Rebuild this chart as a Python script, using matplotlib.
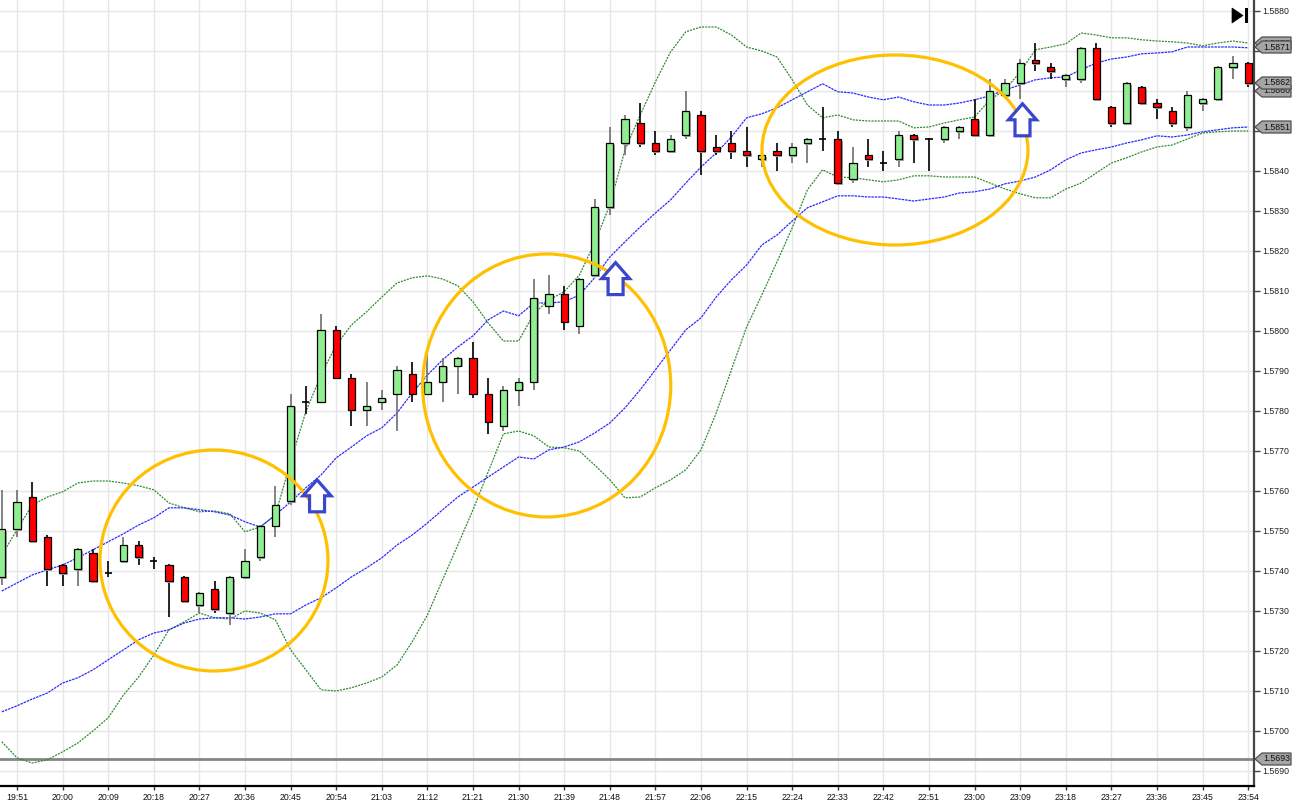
import numpy as np
import matplotlib
matplotlib.use("Agg")
import matplotlib.pyplot as plt
from matplotlib.patches import Rectangle, Ellipse, Polygon
from matplotlib.transforms import IdentityTransform

# ---------------- data (3-minute candles, 19:48 .. 23:54) ----------------
opens = [1.57385, 1.57505, 1.57585, 1.57485, 1.57415, 1.57405, 1.57445, 1.57395, 1.57425, 1.57465,
         1.57425, 1.57415, 1.57385, 1.57315, 1.57355, 1.57295, 1.57385, 1.57435, 1.57513, 1.57575,
         1.57823, 1.57823, 1.58003, 1.57883, 1.57803, 1.57823, 1.57843, 1.57893, 1.57843, 1.57873,
         1.57913, 1.57933, 1.57843, 1.57763, 1.57853, 1.57873, 1.58063, 1.58093, 1.58013, 1.58140,
         1.58310, 1.58470, 1.58520, 1.58470, 1.58450, 1.58490, 1.58540, 1.58460, 1.58470, 1.58450,
         1.58430, 1.58450, 1.58440, 1.58470, 1.58480, 1.58480, 1.58380, 1.58440, 1.58420, 1.58430,
         1.58490, 1.58480, 1.58480, 1.58500, 1.58530, 1.58490, 1.58590, 1.58620, 1.58678, 1.58660,
         1.58630, 1.58630, 1.58708, 1.58560, 1.58520, 1.58610, 1.58570, 1.58550, 1.58510, 1.58570,
         1.58580, 1.58660, 1.58670]
highs = [1.57603, 1.57603, 1.57623, 1.57490, 1.57418, 1.57458, 1.57455, 1.57425, 1.57485, 1.57475,
         1.57435, 1.57418, 1.57388, 1.57348, 1.57375, 1.57388, 1.57455, 1.57515, 1.57613, 1.57843,
         1.57863, 1.58043, 1.58013, 1.57893, 1.57873, 1.57853, 1.57913, 1.57923, 1.57948, 1.57933,
         1.57935, 1.57973, 1.57883, 1.57863, 1.57883, 1.58130, 1.58140, 1.58113, 1.58133, 1.58330,
         1.58510, 1.58540, 1.58570, 1.58500, 1.58490, 1.58600, 1.58550, 1.58490, 1.58500, 1.58510,
         1.58442, 1.58470, 1.58470, 1.58482, 1.58560, 1.58500, 1.58460, 1.58480, 1.58450, 1.58500,
         1.58492, 1.58482, 1.58512, 1.58512, 1.58580, 1.58630, 1.58630, 1.58680, 1.58720, 1.58670,
         1.58642, 1.58710, 1.58720, 1.58562, 1.58622, 1.58612, 1.58580, 1.58560, 1.58600, 1.58582,
         1.58662, 1.58688, 1.58672]
lows = [1.57365, 1.57485, 1.57470, 1.57363, 1.57363, 1.57363, 1.57372, 1.57385, 1.57422, 1.57415,
        1.57405, 1.57285, 1.57322, 1.57295, 1.57295, 1.57265, 1.57382, 1.57425, 1.57485, 1.57565,
        1.57793, 1.57820, 1.57880, 1.57763, 1.57763, 1.57803, 1.57750, 1.57823, 1.57840, 1.57823,
        1.57843, 1.57833, 1.57743, 1.57750, 1.57813, 1.57853, 1.58043, 1.58003, 1.57993, 1.58138,
        1.58290, 1.58440, 1.58460, 1.58440, 1.58448, 1.58480, 1.58390, 1.58440, 1.58430, 1.58410,
        1.58410, 1.58400, 1.58420, 1.58420, 1.58450, 1.58370, 1.58370, 1.58410, 1.58400, 1.58410,
        1.58420, 1.58400, 1.58470, 1.58480, 1.58490, 1.58488, 1.58588, 1.58580, 1.58650, 1.58630,
        1.58610, 1.58620, 1.58580, 1.58510, 1.58518, 1.58570, 1.58530, 1.58510, 1.58500, 1.58550,
        1.58578, 1.58630, 1.58610]
closes = [1.57505, 1.57573, 1.57475, 1.57405, 1.57395, 1.57455, 1.57375, 1.57395, 1.57465, 1.57435,
          1.57425, 1.57375, 1.57325, 1.57345, 1.57305, 1.57385, 1.57425, 1.57513, 1.57565, 1.57813,
          1.57823, 1.58003, 1.57883, 1.57803, 1.57813, 1.57833, 1.57903, 1.57843, 1.57873, 1.57913,
          1.57933, 1.57843, 1.57773, 1.57853, 1.57873, 1.58083, 1.58093, 1.58023, 1.58130, 1.58310,
          1.58470, 1.58530, 1.58470, 1.58450, 1.58480, 1.58550, 1.58450, 1.58450, 1.58450, 1.58440,
          1.58440, 1.58440, 1.58460, 1.58480, 1.58480, 1.58370, 1.58420, 1.58430, 1.58420, 1.58490,
          1.58480, 1.58480, 1.58510, 1.58510, 1.58490, 1.58600, 1.58620, 1.58670, 1.58670, 1.58650,
          1.58640, 1.58708, 1.58580, 1.58520, 1.58620, 1.58570, 1.58560, 1.58520, 1.58590, 1.58580,
          1.58660, 1.58670, 1.58620]

# Bollinger bands (green)
bb_upper = [1.57440, 1.57503, 1.57565, 1.57585, 1.57598, 1.57620, 1.57625, 1.57625, 1.57620, 1.57613,
            1.57603, 1.57570, 1.57558, 1.57548, 1.57550, 1.57543, 1.57498, 1.57510, 1.57540, 1.57673,
            1.57798, 1.57890, 1.57965, 1.58015, 1.58048, 1.58085, 1.58120, 1.58133, 1.58138, 1.58130,
            1.58113, 1.58073, 1.58020, 1.57975, 1.57975, 1.58043, 1.58078, 1.58098, 1.58140, 1.58220,
            1.58315, 1.58453, 1.58540, 1.58623, 1.58698, 1.58748, 1.58760, 1.58760, 1.58740, 1.58710,
            1.58700, 1.58685, 1.58628, 1.58565, 1.58533, 1.58540, 1.58528, 1.58525, 1.58525, 1.58525,
            1.58508, 1.58510, 1.58520, 1.58528, 1.58535, 1.58578, 1.58603, 1.58648, 1.58703, 1.58710,
            1.58718, 1.58745, 1.58740, 1.58733, 1.58733, 1.58728, 1.58725, 1.58723, 1.58720, 1.58713,
            1.58720, 1.58725, 1.58720]
bb_lower = [1.56973, 1.56933, 1.56920, 1.56928, 1.56948, 1.56970, 1.57000, 1.57033, 1.57090, 1.57135,
            1.57190, 1.57253, 1.57273, 1.57295, 1.57283, 1.57280, 1.57300, 1.57295, 1.57278, 1.57203,
            1.57153, 1.57103, 1.57100, 1.57108, 1.57120, 1.57135, 1.57165, 1.57223, 1.57290, 1.57378,
            1.57465, 1.57553, 1.57648, 1.57743, 1.57750, 1.57738, 1.57710, 1.57708, 1.57700, 1.57665,
            1.57628, 1.57583, 1.57585, 1.57608, 1.57628, 1.57653, 1.57703, 1.57795, 1.57903, 1.58010,
            1.58090, 1.58173, 1.58258, 1.58353, 1.58403, 1.58385, 1.58383, 1.58378, 1.58373, 1.58378,
            1.58388, 1.58388, 1.58385, 1.58385, 1.58385, 1.58370, 1.58355, 1.58343, 1.58333, 1.58333,
            1.58355, 1.58370, 1.58395, 1.58420, 1.58433, 1.58448, 1.58460, 1.58465, 1.58480, 1.58495,
            1.58498, 1.58500, 1.58500]
# Keltner channel (blue)
kc_upper = [1.57350, 1.57370, 1.57390, 1.57403, 1.57415, 1.57433, 1.57453, 1.57473, 1.57493, 1.57515,
            1.57533, 1.57558, 1.57558, 1.57553, 1.57548, 1.57540, 1.57523, 1.57510, 1.57540, 1.57573,
            1.57608, 1.57640, 1.57683, 1.57710, 1.57738, 1.57758, 1.57795, 1.57845, 1.57890, 1.57928,
            1.57960, 1.57988, 1.58028, 1.58050, 1.58038, 1.58070, 1.58070, 1.58073, 1.58090, 1.58133,
            1.58185, 1.58223, 1.58260, 1.58295, 1.58328, 1.58370, 1.58410, 1.58445, 1.58485, 1.58533,
            1.58543, 1.58558, 1.58578, 1.58598, 1.58618, 1.58598, 1.58595, 1.58585, 1.58578, 1.58585,
            1.58573, 1.58565, 1.58565, 1.58570, 1.58578, 1.58588, 1.58603, 1.58615, 1.58628, 1.58633,
            1.58635, 1.58653, 1.58670, 1.58680, 1.58685, 1.58693, 1.58695, 1.58698, 1.58710, 1.58710,
            1.58710, 1.58710, 1.58708]
kc_lower = [1.57048, 1.57063, 1.57080, 1.57095, 1.57120, 1.57133, 1.57153, 1.57178, 1.57203, 1.57228,
            1.57245, 1.57253, 1.57270, 1.57280, 1.57283, 1.57283, 1.57280, 1.57285, 1.57293, 1.57293,
            1.57315, 1.57333, 1.57358, 1.57385, 1.57408, 1.57433, 1.57465, 1.57490, 1.57520, 1.57553,
            1.57585, 1.57610, 1.57635, 1.57660, 1.57685, 1.57680, 1.57703, 1.57710, 1.57723, 1.57745,
            1.57770, 1.57808, 1.57853, 1.57903, 1.57953, 1.58003, 1.58033, 1.58085, 1.58128, 1.58165,
            1.58215, 1.58240, 1.58275, 1.58308, 1.58323, 1.58338, 1.58338, 1.58335, 1.58335, 1.58330,
            1.58325, 1.58330, 1.58335, 1.58345, 1.58348, 1.58355, 1.58368, 1.58375, 1.58385, 1.58403,
            1.58428, 1.58445, 1.58453, 1.58460, 1.58470, 1.58478, 1.58488, 1.58485, 1.58490, 1.58498,
            1.58503, 1.58508, 1.58510]

tick_labels = ["19:51", "20:00", "20:09", "20:18", "20:27", "20:36", "20:45", "20:54", "21:03", "21:12",
               "21:21", "21:30", "21:39", "21:48", "21:57", "22:06", "22:15", "22:24", "22:33", "22:42",
               "22:51", "23:00", "23:09", "23:18", "23:27", "23:36", "23:45", "23:54"]
y_ticks = [1.5690, 1.5700, 1.5710, 1.5720, 1.5730, 1.5740, 1.5750, 1.5760, 1.5770, 1.5780,
           1.5790, 1.5800, 1.5810, 1.5820, 1.5830, 1.5840, 1.5850, 1.5860, 1.5870, 1.5880]
# y tick labels hidden behind the value tags in the reference
hidden_tick_labels = [1.5850, 1.5860, 1.5870]
tag_values = [1.5872, 1.5871, 1.5860, 1.5862, 1.5851, 1.5693]
ref_level = 1.5693

# annotations: (center index, center price, width in candles, height in price)
circles = [(13.96, 1.574263, 15.0, 0.005525),
           (35.85, 1.578638, 16.32, 0.006575),
           (58.76, 1.584525, 17.5, 0.00475)]
# up-arrows: (candle index, tip price)
arrows = [(20.74, 1.57628), (40.38, 1.58171), (67.15, 1.58568)]

# ---------------- figure ----------------
W, H = 1310, 809
plt.rcParams['font.family'] = ['Liberation Sans', 'DejaVu Sans']
fig = plt.figure(figsize=(W / 100, H / 100), dpi=100)
fig.patch.set_facecolor('white')
ax = fig.add_axes([0, 23 / H, 1254 / W, 786 / H])
ax.set_facecolor('white')

n = len(opens)
x = np.arange(n)

ax.set_xlim(-0.118, 82.38)
ax.set_ylim(1.568625, 1.588275)

# grid
xt = list(range(1, n, 3))
for t in xt:
    ax.axvline(t, color='#e6e6e6', lw=1.0, zorder=0)
for v in y_ticks:
    ax.axhline(v, color='#e6e6e6', lw=1.0, zorder=0)

ax.axhline(ref_level, color='#858585', lw=2.0, zorder=1)

# bands
ax.plot(x, bb_upper, color='#2e8b2e', lw=0.9, ls=(0, (1.6, 0.9)), zorder=2)
ax.plot(x, bb_lower, color='#2e8b2e', lw=0.9, ls=(0, (1.6, 0.9)), zorder=2)
ax.plot(x, kc_upper, color='#2b2bff', lw=0.9, ls=(0, (2.0, 0.7)), zorder=2)
ax.plot(x, kc_lower, color='#2b2bff', lw=0.9, ls=(0, (2.0, 0.7)), zorder=2)

# candles
bw = 0.48
for i in range(n):
    o, h, l, c = opens[i], highs[i], lows[i], closes[i]
    up = c > o
    doji = abs(c - o) < 1e-7
    wc = '#6e6e6e' if (up and not doji) else '#000000'
    ax.vlines(i, l, h, color=wc, lw=1.2, zorder=4)
    if doji:
        ax.hlines(o, i - bw / 2, i + bw / 2, color='black', lw=1.2, zorder=5)
        continue
    lo, hi = min(o, c), max(o, c)
    ax.add_patch(Rectangle((i - bw / 2 + 0.09, lo - 0.00004), bw, hi - lo,
                           facecolor='#a8a8a8', edgecolor='none', zorder=4.5))
    ax.add_patch(Rectangle((i - bw / 2, lo), bw, hi - lo,
                           facecolor='#90ee90' if up else '#ff0000',
                           edgecolor='black', lw=0.9, zorder=5))

# circles
for cx, cy, w, hgt in circles:
    ax.add_patch(Ellipse((cx, cy), w, hgt, fill=False, edgecolor='#ffc000', lw=2.3, zorder=6))

# axes styling
for s in ['left', 'top']:
    ax.spines[s].set_visible(False)
ax.spines['right'].set_color('#444444')
ax.spines['right'].set_linewidth(1.6)
ax.spines['bottom'].set_color('#000000')
ax.spines['bottom'].set_linewidth(1.6)

ax.set_xticks(xt)
ax.set_xticklabels(tick_labels, fontsize=6.3, color='#111111')
ax.tick_params(axis='x', length=3, width=1, pad=2, color='#333333')
ax.yaxis.tick_right()
ax.set_yticks(y_ticks)
ax.set_yticklabels(["" if any(abs(v - hv) < 1e-9 for hv in hidden_tick_labels) else f"{v:.4f}"
                    for v in y_ticks], fontsize=6.3, color='#222222')
ax.tick_params(axis='y', length=4, width=1, pad=2, color='#444444')

fig.canvas.draw()
td = ax.transData

# arrows (hollow up arrows), drawn in pixel units
for ai, ap in arrows:
    px, py = td.transform((ai, ap))
    hw, hh, sw, th = 14, 16, 7.5, 32
    pts = [(px, py), (px + hw, py - hh), (px + sw, py - hh), (px + sw, py - th),
           (px - sw, py - th), (px - sw, py - hh), (px - hw, py - hh)]
    fig.patches.append(Polygon(pts, closed=True, facecolor='white', edgecolor='#3a46cc',
                               lw=2.3, transform=IdentityTransform(), zorder=7, joinstyle='miter'))

# price tags on the right axis (later tags drawn over earlier ones)
x0 = 1254
for k, v in enumerate(tag_values):
    _, py = td.transform((0, v))
    pts = [(x0 + 1, py), (x0 + 8, py + 6), (x0 + 37, py + 6), (x0 + 37, py - 6), (x0 + 8, py - 6)]
    fig.patches.append(Polygon(pts, closed=True, facecolor='#a5a5a5', edgecolor='#505050',
                               lw=0.9, transform=IdentityTransform(), zorder=8 + 2 * k))
    fig.text((x0 + 23) / W, py / H, f"{v:.4f}", fontsize=6.3, color='#111111',
             ha='center', va='center', zorder=9 + 2 * k)

# "go to end" icon top right
tri = [(1232, H - 8), (1232, H - 23), (1243, H - 15.5)]
fig.patches.append(Polygon(tri, closed=True, facecolor='black', edgecolor='black', lw=0.5,
                           transform=IdentityTransform()))
fig.patches.append(Rectangle((1244.5, H - 23), 3, 15, facecolor='black', edgecolor='none',
                             transform=IdentityTransform()))

fig.savefig('out.png', dpi=100, facecolor='white')
